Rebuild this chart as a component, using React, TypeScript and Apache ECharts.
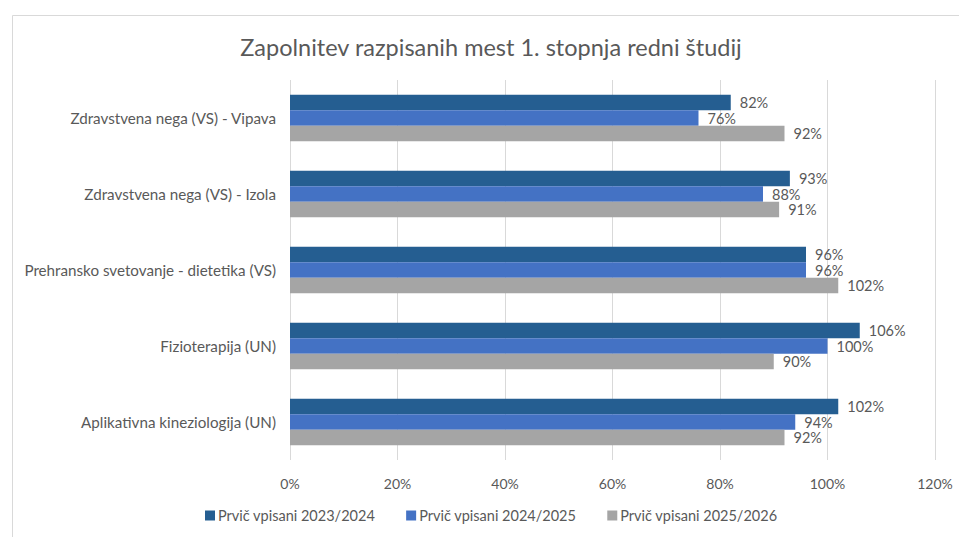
import React, { useEffect, useRef } from "react";
import * as echarts from "echarts";

const titleText = "Zapolnitev razpisanih mest 1. stopnja redni študij";
const categories = [
  "Zdravstvena nega (VS) - Vipava",
  "Zdravstvena nega (VS) - Izola",
  "Prehransko svetovanje - dietetika (VS)",
  "Fizioterapija (UN)",
  "Aplikativna kineziologija (UN)",
];
const seriesNames = [
  "Prvič vpisani 2023/2024",
  "Prvič vpisani 2024/2025",
  "Prvič vpisani 2025/2026",
];
const values2324 = [82, 93, 96, 106, 102];
const values2425 = [76, 88, 96, 100, 94];
const values2526 = [92, 91, 102, 90, 92];
const colors = ["#255E91", "#4472C4", "#A5A5A5"];

const FONT = "Lato, 'Open Sans', sans-serif";
const TXT = "#595959";

export default function App() {
  const ref = useRef<HTMLDivElement>(null);
  useEffect(() => {
    if (!ref.current) return;
    const chart = echarts.init(ref.current, null, { renderer: "svg" });
    const data = [values2324, values2425, values2526];
    chart.setOption({
      animation: false,
      backgroundColor: "#ffffff",
      textStyle: { fontFamily: FONT },
      graphic: [
        {
          type: "rect",
          left: 10,
          top: 13,
          shape: { width: 980, height: 560 },
          style: { fill: "none", stroke: "#D9D9D9", lineWidth: 1 },
          z: -1,
        },
      ],
      title: {
        text: titleText,
        left: 486,
        top: 30,
        textAlign: "center",
        textStyle: { fontFamily: FONT, fontSize: 23.5, fontWeight: "normal", color: TXT },
      },
      legend: {
        bottom: 9,
        left: 200,
        itemWidth: 10,
        itemHeight: 10,
        itemGap: 31,
        icon: "rect",
        textStyle: { fontFamily: FONT, fontSize: 14.5, color: TXT, padding: [0, 0, 0, -2] },
        data: seriesNames,
      },
      grid: { left: 290, right: 24, top: 80, bottom: 77, containLabel: false },
      xAxis: {
        type: "value",
        min: 0,
        max: 120,
        interval: 20,
        axisLine: { show: false },
        axisTick: { show: false },
        splitLine: { show: true, lineStyle: { color: "#D9D9D9", width: 1 } },
        axisLabel: {
          formatter: "{value}%",
          color: TXT,
          fontFamily: FONT,
          fontSize: 14,
          margin: 16,
        },
      },
      yAxis: {
        type: "category",
        data: categories,
        inverse: true,
        axisLine: { show: false },
        axisTick: { show: false },
        axisLabel: { color: TXT, fontFamily: FONT, fontSize: 15.2, margin: 14 },
      },
      series: seriesNames.map((name, i) => ({
        name,
        type: "bar",
        data: data[i],
        barGap: "0%",
        barCategoryGap: "39%",
        itemStyle: { color: colors[i] },
        label: {
          show: true,
          position: "right",
          distance: 9,
          formatter: "{c}%",
          color: TXT,
          fontFamily: FONT,
          fontSize: 14.5,
        },
      })),
    });
    return () => chart.dispose();
  }, []);
  return (
    <div
      ref={ref}
      style={{ width: 959, height: 537, position: "absolute", left: 0, top: 0 }}
    />
  );
}
